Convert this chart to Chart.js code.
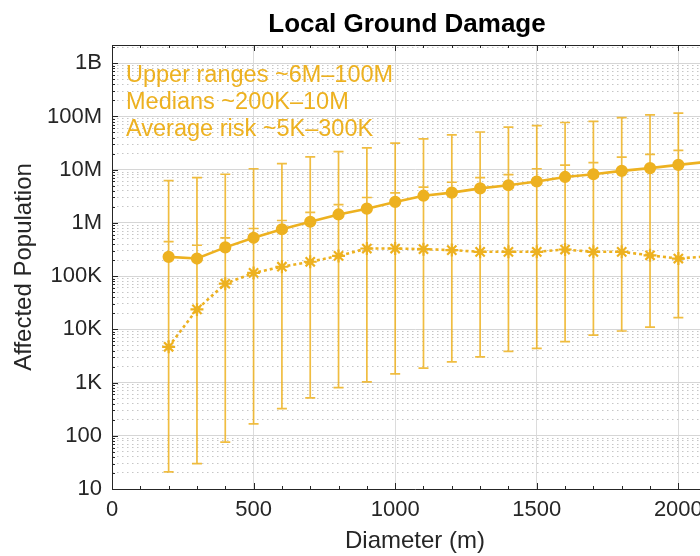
<!DOCTYPE html>
<html>
<head>
<meta charset="utf-8">
<script src="https://cdn.jsdelivr.net/npm/chart.js@4.4.1/dist/chart.umd.min.js"></script>
<style>
  html, body { margin: 0; padding: 0; overflow: hidden; background: #fff; }
  #wrap { position: relative; width: 814px; height: 556px; }
</style>
</head>
<body>
<div id="wrap"><canvas id="chart"></canvas></div>
<script>
// Asteroid diameter (m)
const diameters = [200, 300, 400, 500, 600, 700, 800, 900, 1000, 1100,
  1200, 1300, 1400, 1500, 1600, 1700, 1800, 1900, 2000, 2100];

// Median affected population and its error range
const medians = [230e3, 214e3, 347e3, 525e3, 760e3, 1.05e6, 1.44e6, 1.85e6, 2.48e6, 3.24e6,
  3.7e6, 4.45e6, 5.1e6, 6.0e6, 7.3e6, 8.2e6, 9.5e6, 10.7e6, 12.3e6, 14e6];
const medianHigh = [445e3, 380e3, 525e3, 785e3, 1.11e6, 1.58e6, 2.2e6, 3.0e6, 3.67e6, 4.7e6,
  5.8e6, 7.1e6, 8.1e6, 10.4e6, 12.2e6, 13.6e6, 17.2e6, 19.3e6, 23e6, 24e6];
const lowRange = [21, 30, 76, 168, 324, 516, 800, 1030, 1460, 1860,
  2450, 3050, 3850, 4370, 5900, 7800, 9300, 11000, 16600, 20000];

// Average risk and upper range
const averages = [4.7e3, 23.7e3, 72e3, 115e3, 150e3, 186e3, 240e3, 330e3, 330e3, 321e3,
  308e3, 286e3, 286e3, 286e3, 316e3, 286e3, 286e3, 246e3, 214e3, 235e3];
const upperRange = [6.2e6, 7.1e6, 8.2e6, 10.4e6, 13e6, 17.4e6, 21.8e6, 25.6e6, 31.6e6, 37.8e6,
  45e6, 51e6, 63e6, 67e6, 77e6, 81e6, 95e6, 107e6, 115e6, 120e6];

const xTicks = [0, 500, 1000, 1500, 2000];
const yDecades = [10, 100, 1e3, 1e4, 1e5, 1e6, 1e7, 1e8, 1e9];
const yTickLabels = ["10", "100", "1K", "10K", "100K", "1M", "10M", "100M", "1B"];
const notes = ["Upper ranges ~6M\u2013100M", "Medians ~200K\u201310M", "Average risk ~5K\u2013300K"];

const lineColor = "#EDB120";
const errColor = "rgba(237, 177, 32, 0.85)";
const axisColor = "#262626";
const fontFamily = '"Liberation Sans", Arial, Helvetica, sans-serif';

// minor log positions 2..9 of each decade
let yMinor = [];
yDecades.forEach(d => {
  for (let k = 2; k <= 9; k++) yMinor.push(d * k);
});

Chart.defaults.font.family = fontFamily;
Chart.defaults.color = axisColor;

// Vertical error bars drawn through the chart scales
const errorBars = {
  id: "errorBars",
  beforeDatasetsDraw(chart) {
    const ctx = chart.ctx;
    const xs = chart.scales.x, ys = chart.scales.y;
    const area = chart.chartArea;
    const cap = 5;
    ctx.save();
    ctx.beginPath();
    ctx.rect(area.left, area.top, area.right - area.left, area.bottom - area.top);
    ctx.clip();
    ctx.strokeStyle = errColor;
    ctx.lineWidth = 1.7;
    diameters.forEach((d, i) => {
      const px = xs.getPixelForValue(d);
      const lo = ys.getPixelForValue(lowRange[i]);
      const hi = ys.getPixelForValue(medianHigh[i]);
      const avg = ys.getPixelForValue(averages[i]);
      const up = ys.getPixelForValue(upperRange[i]);
      ctx.beginPath();
      ctx.moveTo(px, lo); ctx.lineTo(px, hi);
      ctx.moveTo(px - cap, lo); ctx.lineTo(px + cap, lo);
      ctx.moveTo(px - cap, hi); ctx.lineTo(px + cap, hi);
      ctx.moveTo(px, avg); ctx.lineTo(px, up);
      ctx.moveTo(px - cap, up); ctx.lineTo(px + cap, up);
      ctx.stroke();
    });
    ctx.restore();
  }
};

// Inward tick marks on the axes box, like the original figure
const innerTicks = {
  id: "innerTicks",
  afterDraw(chart) {
    const ctx = chart.ctx;
    const xs = chart.scales.x, ys = chart.scales.y;
    const area = chart.chartArea;
    ctx.save();
    ctx.strokeStyle = axisColor;
    ctx.lineWidth = 1;
    ctx.beginPath();
    yDecades.forEach(v => {
      const py = Math.round(ys.getPixelForValue(v)) + 0.5;
      ctx.moveTo(area.left, py); ctx.lineTo(area.left + 6, py);
    });
    yMinor.forEach(v => {
      if (v > ys.max) return;
      const py = Math.round(ys.getPixelForValue(v)) + 0.5;
      ctx.moveTo(area.left, py); ctx.lineTo(area.left + 3, py);
    });
    for (let v = 0; v <= xs.max; v += 100) {
      const px = Math.round(xs.getPixelForValue(v)) + 0.5;
      const len = v % 500 === 0 ? 6 : 3;
      ctx.moveTo(px, area.bottom); ctx.lineTo(px, area.bottom - len);
      ctx.moveTo(px, area.top); ctx.lineTo(px, area.top + len);
    }
    ctx.stroke();
    ctx.restore();
  }
};

// Text note in the top-left of the plot
const notesPlugin = {
  id: "notes",
  afterDraw(chart) {
    const ctx = chart.ctx;
    const area = chart.chartArea;
    ctx.save();
    ctx.font = "23.5px " + fontFamily;
    ctx.fillStyle = lineColor;
    ctx.textBaseline = "alphabetic";
    notes.forEach((t, i) => {
      ctx.fillText(t, area.left + 14, area.top + 37 + i * 27);
    });
    ctx.restore();
  }
};

const medianPoints = diameters.map((d, i) => ({ x: d, y: medians[i] }));
const averagePoints = diameters.map((d, i) => ({ x: d, y: averages[i] }));

const chart = new Chart(document.getElementById("chart").getContext("2d"), {
  type: "line",
  data: {
    datasets: [{
      label: "Median",
      data: medianPoints,
      borderColor: lineColor,
      backgroundColor: lineColor,
      borderWidth: 2.6,
      pointStyle: "circle",
      pointRadius: 4.8,
      tension: 0
    }, {
      label: "Average risk",
      data: averagePoints,
      borderColor: lineColor,
      backgroundColor: lineColor,
      borderWidth: 2.6,
      borderDash: [3, 3],
      pointStyle: "star",
      pointRadius: 6.5,
      pointBorderWidth: 2.2,
      tension: 0
    }]
  },
  options: {
    responsive: true,
    maintainAspectRatio: false,
    animation: false,
    layout: { padding: 0 },
    plugins: {
      legend: { display: false },
      tooltip: { enabled: false },
      title: {
        display: true,
        text: "Local Ground Damage",
        color: "#000",
        font: { size: 26, weight: "bold" },
        padding: { top: 9, bottom: 4.8 }
      }
    },
    scales: {
      x: {
        type: "linear",
        min: 0,
        max: 2140,
        afterBuildTicks: s => { s.ticks = xTicks.map(v => ({ value: v })); },
        ticks: { padding: 8, font: { size: 22 }, color: axisColor, maxRotation: 0, autoSkip: false, callback: v => String(v) },
        grid: { color: "#dcdcdc", drawTicks: false },
        border: { color: axisColor, width: 1 },
        title: { display: true, text: "Diameter (m)", font: { size: 24 }, color: axisColor, padding: { top: 0, bottom: 0 } },
        afterFit: s => { s.height = 67; }
      },
      xTop: {
        type: "linear",
        position: "top",
        min: 0,
        max: 2140,
        ticks: { display: false },
        grid: { display: false, drawTicks: false },
        border: { color: axisColor, width: 1 },
        afterFit: s => { s.height = 0; }
      },
      y: {
        type: "logarithmic",
        min: 10,
        max: 2.2e9,
        afterBuildTicks: s => { s.ticks = yDecades.map(v => ({ value: v })); },
        ticks: {
          padding: 10,
          font: { size: 22 },
          color: axisColor,
          callback: v => yTickLabels[yDecades.indexOf(v)]
        },
        grid: { color: "#d6d6d6", drawTicks: false },
        border: { color: axisColor, width: 1 },
        title: { display: true, text: "Affected Population", font: { size: 24 }, color: axisColor, padding: { top: 10, bottom: 0 } },
        afterFit: s => { s.width = 112; }
      },
      yMinor: {
        type: "logarithmic",
        position: "right",
        min: 10,
        max: 2.2e9,
        afterBuildTicks: s => { s.ticks = yMinor.filter(v => v < 2.2e9).map(v => ({ value: v })); },
        ticks: { display: false },
        grid: { color: "#c6c6c6", drawTicks: false, lineWidth: 1 },
        border: { display: false, dash: [1.5, 3.5] },
        afterFit: s => { s.width = 96; }
      }
    }
  },
  plugins: [errorBars, innerTicks, notesPlugin]
});
</script>
</body>
</html>
